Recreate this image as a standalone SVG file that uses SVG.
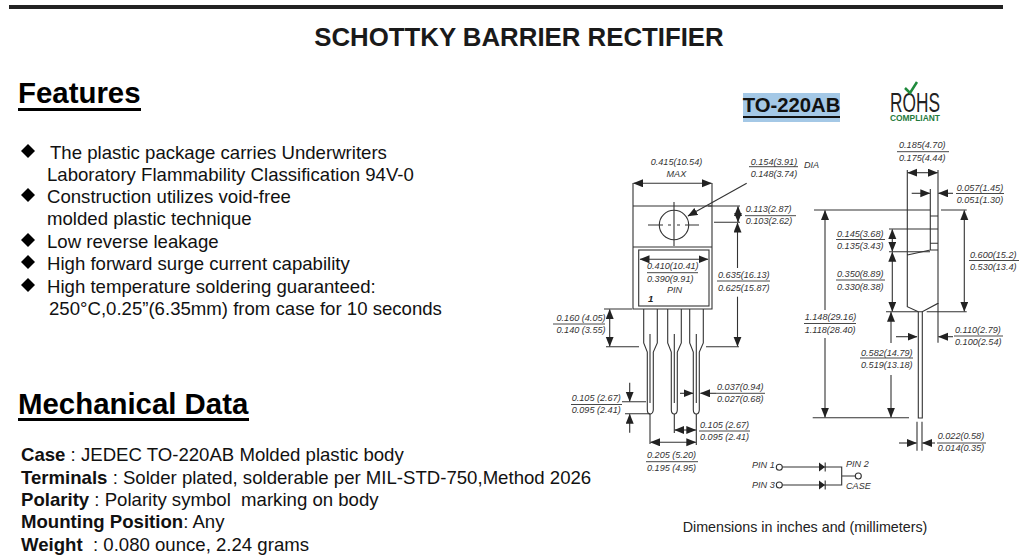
<svg xmlns="http://www.w3.org/2000/svg" width="1024" height="560" viewBox="0 0 1024 560">
<style>
text{font-family:"Liberation Sans",Arial,sans-serif;white-space:pre}
.t{font-size:18.6px;fill:#111}
.h{font-size:29.4px;font-weight:bold;fill:#000}
.d{font-size:9.1px;font-style:italic;fill:#333}
.l{stroke:#333;stroke-width:1.1;fill:none}
.a{stroke:#333;stroke-width:1.1;fill:none;marker-end:url(#ar)}
.b{stroke:#333;stroke-width:1.1;fill:none;marker-start:url(#ar);marker-end:url(#ar)}
.r{stroke:#333;stroke-width:.9}
</style>
<defs>
<marker id="ar" markerUnits="userSpaceOnUse" markerWidth="11" markerHeight="9" refX="9.500" refY="4" orient="auto-start-reverse"><path d="M0 0L10 4L0 8Z" fill="#222"/></marker>
<path id="dm" d="M0-7L7 0L0 7L-7 0Z" fill="#000"/>
</defs>
<rect width="1024" height="560" fill="#fff"/>
<rect x="9" y="5" width="994" height="4" fill="#222"/>
<text x="519" y="45.500" text-anchor="middle" font-size="25.800" font-weight="bold" fill="#1a1a1a">SCHOTTKY BARRIER RECTIFIER</text>

<g id="features">
<text class="h" x="18" y="103">Features</text><rect x="18" y="108" width="123" height="3" fill="#000"/>
<use href="#dm" x="28" y="151"/><use href="#dm" x="28" y="195"/><use href="#dm" x="28" y="240"/><use href="#dm" x="28" y="262"/><use href="#dm" x="28" y="285"/>
<text class="t" x="50" y="158.500">The plastic package carries Underwriters</text>
<text class="t" x="47" y="181">Laboratory Flammability Classification 94V-0</text>
<text class="t" x="47" y="203">Construction utilizes void-free</text>
<text class="t" x="47" y="225">molded plastic technique</text>
<text class="t" x="47" y="248">Low reverse leakage</text>
<text class="t" x="47" y="270">High forward surge current capability</text>
<text class="t" x="47" y="293">High temperature soldering guaranteed:</text>
<text class="t" x="49" y="315">250°C,0.25”(6.35mm) from case for 10 seconds</text>
</g>

<g id="mechanical">
<text class="h" x="18" y="414">Mechanical Data</text><rect x="18" y="418" width="231" height="3" fill="#000"/>
<text class="t" x="21" y="461"><tspan font-weight="bold">Case</tspan> : JEDEC TO-220AB Molded plastic body</text>
<text class="t" x="21" y="484"><tspan font-weight="bold">Terminals</tspan> : Solder plated, solderable per MIL-STD-750,Method 2026</text>
<text class="t" x="21" y="506"><tspan font-weight="bold">Polarity</tspan> : Polarity symbol  marking on body</text>
<text class="t" x="21" y="528"><tspan font-weight="bold">Mounting Position</tspan>: Any</text>
<text class="t" x="21" y="551"><tspan font-weight="bold">Weight</tspan>  : 0.080 ounce, 2.24 grams</text>
</g>

<g id="package-label">
<rect x="743" y="93" width="97" height="29" fill="#a4c8e6"/>
<text x="791.500" y="112" text-anchor="middle" font-size="20.300" font-weight="bold" fill="#111">TO-220AB</text>
<rect x="743" y="116" width="97" height="2" fill="#111"/>
</g>

<g id="rohs">
<text x="890" y="112" font-size="27" fill="#222" textLength="50" lengthAdjust="spacingAndGlyphs">ROHS</text>
<path d="M905 88L910 93L917 82" fill="none" stroke="#1f8a3c" stroke-width="2.500"/>
<text x="890" y="120.500" font-size="9.500" font-weight="bold" fill="#1f7a3c" textLength="50" lengthAdjust="spacingAndGlyphs">COMPLIANT</text>
</g>

<g id="front-view">
<path class="l" d="M633 183V309H712V183M633 206H712M633 247H712M674 202V246M648 225H663M668 225H671M677 225H680M685 225H699M674 220V223M674 227V230"/>
<circle class="l" cx="674" cy="225" r="14.700"/>
<rect class="l" x="638.700" y="250" width="70.300" height="56"/>
<path class="l" d="M643.700 309V343L647.300 352V410Q647.500 414 650 414Q652.800 414 653.300 410V352L657.300 343V309M650 334V403"/>
<path class="l" d="M667.700 309V343L671.300 352V410Q671.500 414 674.300 414Q677 414 677.300 410V352L681.300 343V309M674.300 334V403"/>
<path class="l" d="M689.700 309V343L693.300 352V410Q693.500 414 696.300 414Q699 414 699.300 410V352L703.300 343V309M696.300 334V403"/>
<text x="648" y="302" font-size="9.600" font-weight="bold" font-style="italic" fill="#222">1</text>
</g>

<g id="side-view">
<path class="l" d="M907.300 170V306.700L918.300 311.700H922.300L938 303.300V170M907.300 255L930.300 250H938M930.300 189V250M930.300 216H938M930.300 243.300H938"/>
<path class="l" d="M918.300 311.700V418H922.300V311.700"/>
</g>

<g id="connectors">
<path class="b" d="M633.500 183.300H711.500"/>
<path class="a" d="M746.700 183.300L688 216"/>
<path class="l" d="M708 206H740M714 222.300H740M706 346.700H739M604 309H632M606 346.700H639M622 401.700H646M625 413.700H650M650 414V444M674.300 414V433M696.300 414V445"/>
<path class="a" d="M738 214V206.500"/><path class="a" d="M738 214V222"/>
<path class="a" d="M737.500 268V223"/><path class="a" d="M737.500 296.700V346.200"/>
<path class="b" d="M640 259.300H708"/>
<path class="b" d="M609.700 309.500V346.200"/>
<path class="a" d="M629.700 382.700V401.200"/><path class="a" d="M629.700 432.700V414.200"/>
<path class="a" d="M680 393.300H693"/><path class="a" d="M716 393.300H700.500"/>
<path class="b" d="M674.800 430H695.800"/>
<path class="b" d="M650.500 442.300H695.800"/>

<path class="l" d="M814 210H930M941 210H966.700M889 229H938M889 251.700H930M886 311.700H918M926.700 311.700H966.700M812.700 417.700H909M938 303V342.700M917 421.700V450.700M922 421.700V450.700"/>
<path class="b" d="M907.800 172.700H937.500"/>
<path class="a" d="M911.700 193.300H929.800"/><path class="a" d="M953 193.300H938.500"/>
<path class="a" d="M825 310V210.500"/><path class="a" d="M825 338V417.200"/>
<path class="b" d="M892.300 229.500V251.200"/>
<path class="b" d="M892.300 252.200V311.200"/>
<path class="a" d="M891 343V312.200"/><path class="a" d="M891 375V417.200"/>
<path class="b" d="M964.300 210.500V311.200"/>
<path class="a" d="M896 336.700H917"/><path class="a" d="M953 336.700H938.500"/>
<path class="a" d="M899 443H916.500"/><path class="a" d="M935 443H922.500"/>
</g>

<g id="dimensions">
<text class="d" x="650.700" y="165">0.415(10.54)</text><text class="d" x="666.500" y="176.700">MAX</text>
<text class="d" x="750.700" y="164.500">0.154(3.91)</text><path class="r" d="M749 166.700H798"/><text class="d" x="750.700" y="176.500">0.148(3.74)</text><text class="d" x="804" y="168">DIA</text>
<text class="d" x="745.700" y="212.300">0.113(2.87)</text><path class="r" d="M745 215.700H796"/><text class="d" x="745.700" y="224.300">0.103(2.62)</text>
<text class="d" x="718" y="278">0.635(16.13)</text><path class="r" d="M717 281H770"/><text class="d" x="718" y="291">0.625(15.87)</text>
<text class="d" x="647" y="269.300">0.410(10.41)</text><path class="r" d="M647 272.700H698"/><text class="d" x="647" y="281.700">0.390(9.91)</text><text class="d" x="667" y="292.700">PIN</text>
<text class="d" x="556.500" y="321">0.160 (4.05)</text><path class="r" d="M553 324H605"/><text class="d" x="556.500" y="333">0.140 (3.55)</text>
<text class="d" x="571.700" y="401">0.105 (2.67)</text><path class="r" d="M571 404.500H622"/><text class="d" x="571.700" y="412.700">0.095 (2.41)</text>
<text class="d" x="717" y="390">0.037(0.94)</text><path class="r" d="M716 393.300H765"/><text class="d" x="717" y="402.300">0.027(0.68)</text>
<text class="d" x="700" y="428">0.105 (2.67)</text><path class="r" d="M699 431H750"/><text class="d" x="700" y="440">0.095 (2.41)</text>
<text class="d" x="647" y="458">0.205 (5.20)</text><path class="r" d="M646 461.700H698"/><text class="d" x="647" y="470.700">0.195 (4.95)</text>
<text class="d" x="899" y="148">0.185(4.70)</text><path class="r" d="M897 151.700H949"/><text class="d" x="899" y="160.700">0.175(4.44)</text>
<text class="d" x="956.700" y="190.700">0.057(1.45)</text><path class="r" d="M956 193.500H1004"/><text class="d" x="956.700" y="202.700">0.051(1.30)</text>
<text class="d" x="837" y="236.700">0.145(3.68)</text><path class="r" d="M836 239.500H885"/><text class="d" x="837" y="248.700">0.135(3.43)</text>
<text class="d" x="837" y="277">0.350(8.89)</text><path class="r" d="M836 280H885"/><text class="d" x="837" y="290">0.330(8.38)</text>
<text class="d" x="970" y="257.700">0.600(15.2)</text><path class="r" d="M969 260.500H1019"/><text class="d" x="970" y="270">0.530(13.4)</text>
<text class="d" x="804.700" y="320">1.148(29.16)</text><path class="r" d="M804 323.500H856"/><text class="d" x="804.700" y="333">1.118(28.40)</text>
<text class="d" x="861" y="355.700">0.582(14.79)</text><path class="r" d="M860 358H913"/><text class="d" x="861" y="367.700">0.519(13.18)</text>
<text class="d" x="955" y="333">0.110(2.79)</text><path class="r" d="M954 336H1003"/><text class="d" x="955" y="345">0.100(2.54)</text>
<text class="d" x="937.700" y="439.300">0.022(0.58)</text><path class="r" d="M937 443H986"/><text class="d" x="937.700" y="451">0.014(0.35)</text>
</g>

<g id="pin-schematic">
<text class="d" x="752" y="468.300">PIN 1</text><text class="d" x="752" y="488">PIN 3</text>
<text class="d" x="846" y="466.700">PIN 2</text><text class="d" x="846" y="489">CASE</text>
<circle class="l" cx="779.300" cy="467.300" r="3"/><circle class="l" cx="779.300" cy="485" r="3"/><circle class="l" cx="858.300" cy="476" r="3"/>
<path class="l" d="M782.300 467H841.700V485H782.300M841.700 476H855.300M825.200 462.500V471.500M825.200 480.500V489.500"/>
<path d="M819 462.500L825 467L819 471.500ZM819 480.500L825 485L819 489.500Z" fill="#222"/>
</g>

<text x="805" y="532" text-anchor="middle" font-size="14.300" fill="#222">Dimensions in inches and (millimeters)</text>
</svg>
